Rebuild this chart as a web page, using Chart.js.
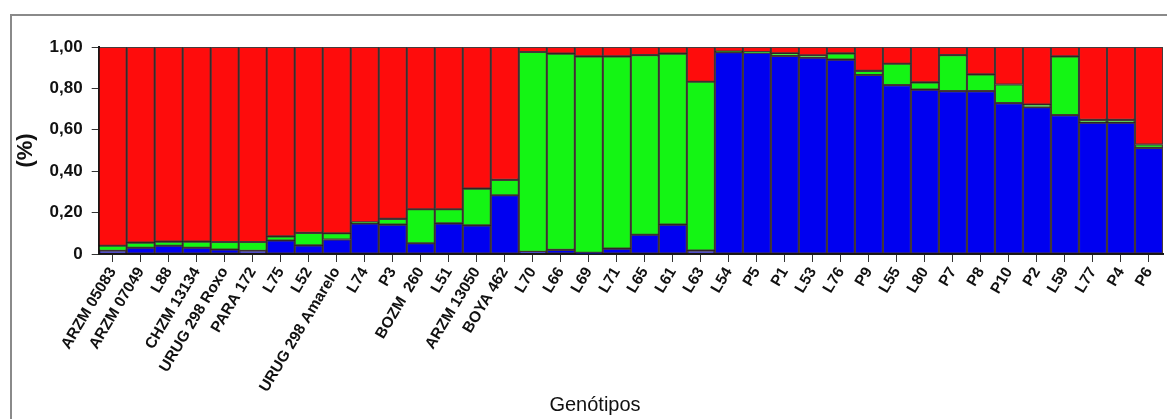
<!DOCTYPE html>
<html>
<head>
<meta charset="utf-8">
<script src="https://cdn.jsdelivr.net/npm/chart.js@4.4.1/dist/chart.umd.min.js"></script>
<style>
  html, body { margin: 0; padding: 0; background: #fff; }
  #wrap { position: relative; width: 1167px; height: 419px; overflow: hidden; }
  #frame { position: absolute; left: 10px; top: 14px; right: -4px; bottom: -4px;
           border-left: 2px solid #8a8a8a; border-top: 2px solid #8a8a8a; }
  canvas { position: absolute; left: 0; top: 0; }
</style>
</head>
<body>
<div id="wrap">
  <div id="frame"></div>
  <canvas id="c" width="1167" height="419"></canvas>
</div>
<script>
// Genotypes (one bar each)
const genotypes = [
  'ARZM 05083', 'ARZM 07049', 'L88', 'CHZM 13134', 'URUG 298 Roxo', 'PARA 172',
  'L75', 'L52', 'URUG 298 Amarelo', 'L74', 'P3', 'BOZM  260', 'L51', 'ARZM 13050',
  'BOYA 462', 'L70', 'L66', 'L69', 'L71', 'L65', 'L61', 'L63', 'L54', 'P5', 'P1',
  'L53', 'L76', 'P9', 'L55', 'L80', 'P7', 'P8', 'P10', 'P2', 'L59', 'L77', 'P4', 'P6'
];

// Membership proportions per group
const groupBlue = [
  0.015, 0.030, 0.040, 0.030, 0.022, 0.015, 0.065, 0.042, 0.070, 0.148, 0.142, 0.052, 0.148, 0.138,
  0.284, 0.010, 0.020, 0.006, 0.026, 0.093, 0.142, 0.016, 0.975, 0.972, 0.957,
  0.948, 0.939, 0.865, 0.816, 0.794, 0.787, 0.787, 0.729, 0.709, 0.671, 0.635, 0.635, 0.513
];
const groupGreen = [
  0.025, 0.025, 0.020, 0.030, 0.036, 0.043, 0.020, 0.060, 0.030, 0.005, 0.028, 0.164, 0.068, 0.178,
  0.074, 0.966, 0.948, 0.949, 0.929, 0.868, 0.826, 0.816, 0.003, 0.004, 0.012,
  0.012, 0.030, 0.020, 0.103, 0.035, 0.174, 0.081, 0.090, 0.013, 0.284, 0.013, 0.013, 0.016
];
const groupRed = [
  0.960, 0.945, 0.940, 0.940, 0.942, 0.942, 0.915, 0.898, 0.900, 0.847, 0.830, 0.784, 0.784, 0.684,
  0.642, 0.024, 0.032, 0.045, 0.045, 0.039, 0.032, 0.168, 0.022, 0.024, 0.031,
  0.040, 0.031, 0.115, 0.081, 0.171, 0.039, 0.132, 0.181, 0.278, 0.045, 0.352, 0.352, 0.471
];

// Y axis tick labels (Portuguese decimal comma)
const yTickValues = [0, 0.2, 0.4, 0.6, 0.8, 1.0];
const yTickLabels = ['0', '0,20', '0,40', '0,60', '0,80', '1,00'];

const xAxisTitle = 'Genótipos';
const yAxisTitle = '(%)';

const edge = 'rgba(25,10,10,0.8)';
const fontFamily = '"Liberation Sans", Arial, sans-serif';

// Bottom caption drawn beneath the rotated genotype labels
const captionPlugin = {
  id: 'caption',
  afterDraw(chart) {
    const ctx = chart.ctx;
    ctx.save();
    ctx.font = '20px ' + fontFamily;
    ctx.fillStyle = '#111';
    ctx.textAlign = 'center';
    ctx.textBaseline = 'middle';
    ctx.fillText(xAxisTitle, 595, 405);
    ctx.restore();
  }
};

new Chart(document.getElementById('c'), {
  type: 'bar',
  data: {
    labels: genotypes,
    datasets: [
      { label: 'Grupo 1', data: groupBlue, backgroundColor: '#0000f0' },
      { label: 'Grupo 2', data: groupGreen, backgroundColor: '#14f514' },
      { label: 'Grupo 3', data: groupRed, backgroundColor: '#fe0c0c' }
    ].map(d => Object.assign(d, {
      borderColor: edge, borderWidth: 1.4, borderSkipped: false,
      categoryPercentage: 1.0, barPercentage: 1.0
    }))
  },
  options: {
    responsive: false,
    animation: false,
    devicePixelRatio: 1,
    layout: { padding: { left: 13, top: 47, right: 4, bottom: 0 } },
    plugins: { legend: { display: false }, tooltip: { enabled: false } },
    scales: {
      x: {
        stacked: true,
        afterFit(scale) { scale.height = 165; },
        grid: { display: true, drawOnChartArea: false, drawTicks: true, tickLength: 8,
                color: '#333', offset: false },
        border: { display: true, color: '#1a1a1a', width: 2 },
        ticks: {
          autoSkip: false, minRotation: 59, maxRotation: 59, padding: 2,
          color: '#111',
          font: { family: fontFamily, size: 15.5, weight: 'bold' }
        }
      },
      y: {
        stacked: true,
        min: 0, max: 1,
        afterFit(scale) { scale.width = 98.7 - 13; },
        afterBuildTicks(scale) { scale.ticks = yTickValues.map(v => ({ value: v })); },
        grid: { display: true, drawOnChartArea: false, drawTicks: true, tickLength: 7, color: '#333' },
        border: { display: true, color: '#1a1a1a', width: 2 },
        ticks: {
          padding: 9, color: '#111',
          font: { family: fontFamily, size: 17, weight: 'bold' },
          callback(value) {
            const i = yTickValues.findIndex(v => Math.abs(v - value) < 1e-6);
            return i >= 0 ? yTickLabels[i] : '';
          }
        },
        title: {
          display: true, text: yAxisTitle, color: '#111',
          padding: { top: 0, bottom: 0 },
          font: { family: fontFamily, size: 22, weight: 'bold' }
        }
      }
    }
  },
  plugins: [captionPlugin]
});
</script>
</body>
</html>
